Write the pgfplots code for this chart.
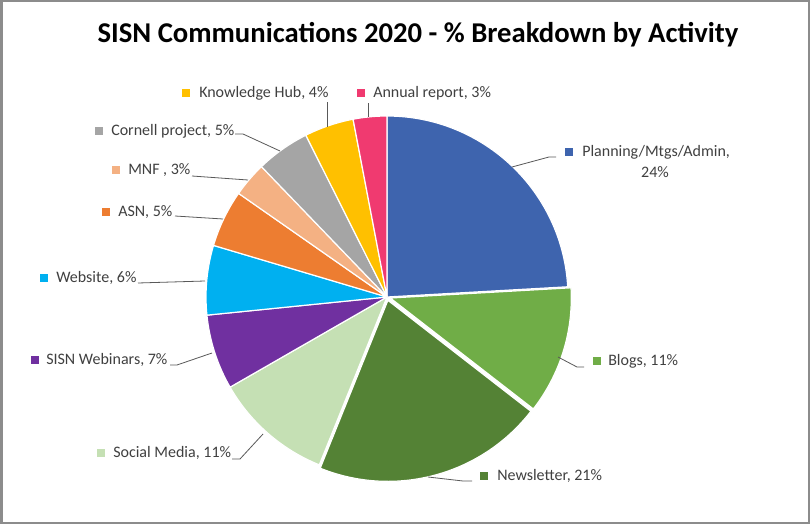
\documentclass[border=0pt]{standalone}
\usepackage{pgfplots}
\usepackage{pgfplotstable}
\pgfplotsset{compat=1.18}
\usepackage{fontspec}
\setmainfont{Carlito}

\definecolor{slice0}{HTML}{3E64AE}
\definecolor{slice1}{HTML}{70AD47}
\definecolor{slice2}{HTML}{548235}
\definecolor{slice3}{HTML}{C5E0B4}
\definecolor{slice4}{HTML}{7030A0}
\definecolor{slice5}{HTML}{00B0F0}
\definecolor{slice6}{HTML}{ED7D31}
\definecolor{slice7}{HTML}{F4B183}
\definecolor{slice8}{HTML}{A5A5A5}
\definecolor{slice9}{HTML}{FFC000}
\definecolor{slice10}{HTML}{F03A70}
\definecolor{txt}{HTML}{404040}
\definecolor{leader}{HTML}{595959}
\definecolor{frame}{HTML}{8C8C8C}

% share of each activity (%), explode flag
\pgfplotstableread{
value explode
24.1 0
11.4 1
20.6 1
10.6 0
6.7  0
6.2  0
5.1  0
3.1  0
4.8  0
4.4  0
3.0  0
}\piedata

% start / end / middle angle of each slice, clockwise from 12 o'clock
\def\cum{0}
\pgfplotsforeachungrouped \i in {0,...,10}{%
  \pgfplotstablegetelem{\i}{value}\of\piedata
  \pgfmathsetmacro\sa{90-3.6*\cum}%
  \pgfmathsetmacro\cum{\cum+\pgfplotsretval}%
  \pgfmathsetmacro\ea{90-3.6*\cum}%
  \pgfmathsetmacro\ma{(\sa+\ea)/2}%
  \pgfplotstablegetelem{\i}{explode}\of\piedata
  \pgfmathsetmacro\ex{2.6*\pgfplotsretval}%
  \expandafter\xdef\csname sa\i\endcsname{\sa}%
  \expandafter\xdef\csname ea\i\endcsname{\ea}%
  \expandafter\xdef\csname ma\i\endcsname{\ma}%
  \expandafter\xdef\csname ex\i\endcsname{\ex}%
}

\begin{document}
\begin{tikzpicture}
\begin{axis}[
    x=0.75pt, y=0.75pt,
    xmin=0, xmax=810, ymin=0, ymax=524,
    y dir=reverse,
    hide axis, clip=false,
    scale only axis,
]
% page and frame
\fill[white] (axis cs:0,0) rectangle (axis cs:810,524);
\draw[frame, line width=1.5pt] (axis cs:1.5,1.5) rectangle (axis cs:808.5,522.5);

\node[font=\bfseries\fontsize{21.5}{25}\selectfont, text=black] at (axis cs:418,35)
  {SISN Communications 2020 - \% Breakdown by Activity};

% slices
\pgfplotsinvokeforeach{0,...,10}{
  \filldraw[fill=slice#1, draw=white, line width=0.9pt, line join=round,
    shift={(\csname ma#1\endcsname:\csname ex#1\endcsname pt)}]
    (axis cs:387,297) -- ++(\csname sa#1\endcsname:135.75pt)
    arc[start angle=\csname sa#1\endcsname, end angle=\csname ea#1\endcsname, radius=135.75pt]
    -- cycle;
}

% leader lines
\begin{scope}[leader, line width=0.6pt]
\draw (axis cs:512,167) -- (axis cs:549,157) -- (axis cs:556,157);
\draw (axis cs:558,357) -- (axis cs:577,367) -- (axis cs:584,367);
\draw (axis cs:428,477) -- (axis cs:463,481) -- (axis cs:472,481);
\draw (axis cs:263,434) -- (axis cs:240,459) -- (axis cs:232,459);
\draw (axis cs:212,353) -- (axis cs:177,365) -- (axis cs:170,365);
\draw (axis cs:205,281) -- (axis cs:138,283);
\draw (axis cs:223,219) -- (axis cs:175,216);
\draw (axis cs:248,180) -- (axis cs:192,176);
\draw (axis cs:280,151) -- (axis cs:243,134) -- (axis cs:235,134);
\draw (axis cs:327,127) -- (axis cs:327,102);
\draw (axis cs:368,117) -- (axis cs:368,103);
\end{scope}

% labels: marker square and text
\begin{scope}[every node/.style={anchor=west, inner sep=0pt, text=txt, font=\fontsize{12}{14}\selectfont}]
\fill[slice0] (axis cs:565,148) rectangle (axis cs:573,156);
\node at (axis cs:582,152) {Planning/Mtgs/Admin,};
\node[anchor=center] at (axis cs:655,172) {24\%};
\fill[slice1] (axis cs:593,357) rectangle (axis cs:601,365);
\node at (axis cs:608,361) {Blogs, 11\%};
\fill[slice2] (axis cs:480,472) rectangle (axis cs:488,480);
\node at (axis cs:497,476) {Newsletter, 21\%};
\fill[slice3] (axis cs:97,449) rectangle (axis cs:105,457);
\node at (axis cs:113,453) {Social Media, 11\%};
\fill[slice4] (axis cs:31,356) rectangle (axis cs:39,364);
\node at (axis cs:46,360) {SISN Webinars, 7\%};
\fill[slice5] (axis cs:40,274) rectangle (axis cs:48,282);
\node at (axis cs:56,278) {Website, 6\%};
\fill[slice6] (axis cs:102,208) rectangle (axis cs:110,216);
\node at (axis cs:118,212) {ASN, 5\%};
\fill[slice7] (axis cs:112,166) rectangle (axis cs:120,174);
\node at (axis cs:128,170) {MNF , 3\%};
\fill[slice8] (axis cs:95,127) rectangle (axis cs:103,135);
\node at (axis cs:111,131) {Cornell project, 5\%};
\fill[slice9] (axis cs:182,89) rectangle (axis cs:190,97);
\node at (axis cs:199,93) {Knowledge Hub, 4\%};
\fill[slice10] (axis cs:357,89) rectangle (axis cs:365,97);
\node at (axis cs:373,93) {Annual report, 3\%};
\end{scope}
\end{axis}
\end{tikzpicture}
\end{document}
